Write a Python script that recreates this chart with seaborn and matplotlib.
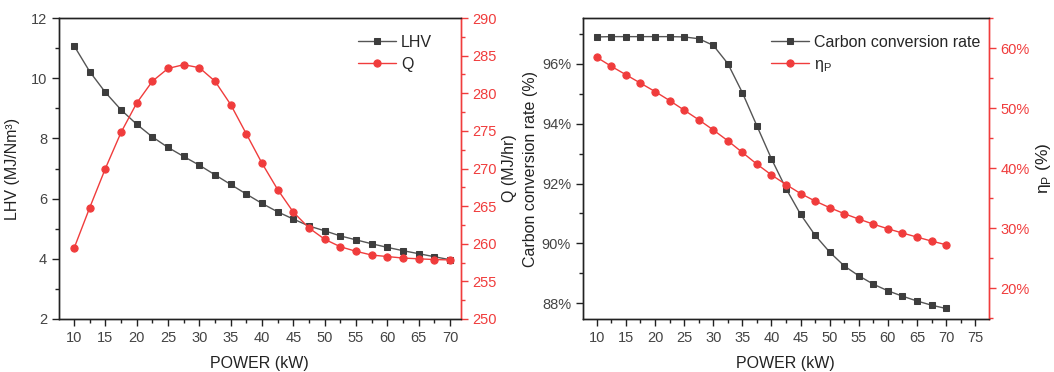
import numpy as np
import pandas as pd
import matplotlib
matplotlib.use("Agg")
import matplotlib.pyplot as plt
from matplotlib.ticker import MultipleLocator, PercentFormatter
import seaborn as sns

# --- data ---
power = [10, 12.5, 15, 17.5, 20, 22.5, 25, 27.5, 30, 32.5, 35, 37.5, 40,
         42.5, 45, 47.5, 50, 52.5, 55, 57.5, 60, 62.5, 65, 67.5, 70]
lhv = [11.08, 10.22, 9.53, 8.95, 8.47, 8.05, 7.70, 7.40, 7.11, 6.79, 6.47,
       6.15, 5.84, 5.56, 5.32, 5.09, 4.93, 4.76, 4.63, 4.50, 4.38, 4.27,
       4.17, 4.07, 3.97]
q = [259.4, 264.8, 270.0, 274.8, 278.7, 281.6, 283.3, 283.8, 283.4, 281.6,
     278.5, 274.6, 270.7, 267.2, 264.2, 262.1, 260.6, 259.6, 259.0, 258.5,
     258.3, 258.1, 258.0, 257.9, 257.85]
carbon = [96.89, 96.9, 96.9, 96.9, 96.9, 96.9, 96.89, 96.83, 96.61, 96.0,
          95.03, 93.92, 92.82, 91.83, 90.97, 90.27, 89.71, 89.25, 88.92,
          88.64, 88.42, 88.24, 88.08, 87.94, 87.83]
eta_p = [58.5, 57.0, 55.6, 54.2, 52.8, 51.3, 49.7, 48.1, 46.4, 44.6, 42.65,
         40.7, 38.9, 37.3, 35.8, 34.55, 33.45, 32.45, 31.55, 30.7, 29.93,
         29.22, 28.55, 27.88, 27.27]

df = pd.DataFrame({"power": power, "lhv": lhv, "q": q,
                   "carbon": carbon, "eta_p": eta_p})

sns.set_theme(style="ticks")
plt.rcParams["font.family"] = ["Liberation Sans", "DejaVu Sans"]
plt.rcParams["axes.linewidth"] = 1.0

DARK = "#3d3d3d"
LINE_DARK = "#555555"
RED = "#f03c3c"
TICK_GREY = "#444444"
LABEL_SIZE = 11.5
TICK_SIZE = 10.5

fig = plt.figure(figsize=(10.54, 3.72), dpi=100)
ax1 = fig.add_axes([0.056, 0.1425, 0.381, 0.809])
ax3 = fig.add_axes([0.553, 0.1425, 0.385, 0.809])


def style_pair(ax, axr):
    for a in (ax, axr):
        for side in ("left", "bottom", "top"):
            a.spines[side].set_color("#222222")
            a.spines[side].set_linewidth(1.0)
        a.spines["right"].set_color(RED)
        a.spines["right"].set_linewidth(1.0)
    ax.tick_params(axis="both", which="major", direction="out", length=5,
                   width=1, colors="#222222", labelcolor=TICK_GREY,
                   labelsize=TICK_SIZE)
    ax.tick_params(axis="both", which="minor", direction="out", length=3,
                   width=1, colors="#222222")
    axr.tick_params(axis="y", which="major", direction="out", length=5,
                    width=1, colors=RED, labelcolor=RED, labelsize=TICK_SIZE)
    axr.tick_params(axis="y", which="minor", direction="out", length=3,
                    width=1, colors=RED)
    ax.xaxis.set_major_locator(MultipleLocator(5))
    ax.xaxis.set_minor_locator(MultipleLocator(2.5))
    ax.set_xlabel("POWER (kW)", fontsize=LABEL_SIZE, color="#222222",
                  labelpad=8)


sq = dict(marker="s", markersize=4.5, markeredgecolor=DARK, markerfacecolor=DARK,
          color=LINE_DARK, linewidth=1.0)
ci = dict(marker="o", markersize=5.2, markeredgecolor=RED, markerfacecolor=RED,
          color=RED, linewidth=1.0)
leg_kw = dict(loc="upper left", frameon=False, fontsize=LABEL_SIZE, borderpad=0,
              borderaxespad=0, handlelength=2.4, handletextpad=0.3,
              labelspacing=0.45)

# --- left panel: LHV and Q ---
ax2 = ax1.twinx()
sns.lineplot(data=df, x="power", y="lhv", ax=ax1, label="LHV", **sq)
sns.lineplot(data=df, x="power", y="q", ax=ax2, label="Q", **ci)
ax1.set_xlim(7.6, 71.7)
ax1.set_ylim(2, 12)
ax2.set_ylim(250, 290)
ax1.yaxis.set_major_locator(MultipleLocator(2))
ax1.yaxis.set_minor_locator(MultipleLocator(1))
ax2.yaxis.set_major_locator(MultipleLocator(5))
ax2.yaxis.set_minor_locator(MultipleLocator(2.5))
style_pair(ax1, ax2)
ax1.set_ylabel("LHV (MJ/Nm³)", fontsize=LABEL_SIZE, color="#222222",
               labelpad=8)
ax2.set_ylabel("Q (MJ/hr)", fontsize=LABEL_SIZE, color="#222222", labelpad=4)

h1, l1 = ax1.get_legend_handles_labels()
h2, l2 = ax2.get_legend_handles_labels()
if ax2.get_legend():
    ax2.get_legend().remove()
ax1.legend(h1 + h2, l1 + l2, bbox_to_anchor=(0.744, 0.945), **leg_kw)

# --- right panel: carbon conversion rate and eta_P ---
ax4 = ax3.twinx()
sns.lineplot(data=df, x="power", y="carbon", ax=ax3,
             label="Carbon conversion rate", **sq)
sns.lineplot(data=df, x="power", y="eta_p", ax=ax4,
             label="η$_\\mathregular{P}$", **ci)
ax3.set_xlim(7.6, 77.3)
ax3.set_ylim(87.48, 97.52)
ax4.set_ylim(14.9, 65.05)
ax3.yaxis.set_major_locator(MultipleLocator(2))
ax3.yaxis.set_minor_locator(MultipleLocator(1))
ax3.yaxis.set_major_formatter(PercentFormatter(100, decimals=0))
ax4.yaxis.set_major_locator(MultipleLocator(10))
ax4.yaxis.set_minor_locator(MultipleLocator(5))
ax4.yaxis.set_major_formatter(PercentFormatter(100, decimals=0))
style_pair(ax3, ax4)
ax3.set_ylabel("Carbon conversion rate (%)", fontsize=LABEL_SIZE,
               color="#222222", labelpad=3)
ax4.set_ylabel("η$_\\mathregular{P}$ (%)", fontsize=12.5, color="#222222",
               labelpad=3)

h3, l3 = ax3.get_legend_handles_labels()
h4, l4 = ax4.get_legend_handles_labels()
if ax4.get_legend():
    ax4.get_legend().remove()
ax3.legend(h3 + h4, l3 + l4, bbox_to_anchor=(0.463, 0.945), **leg_kw)

fig.savefig("out.png", dpi=100)
